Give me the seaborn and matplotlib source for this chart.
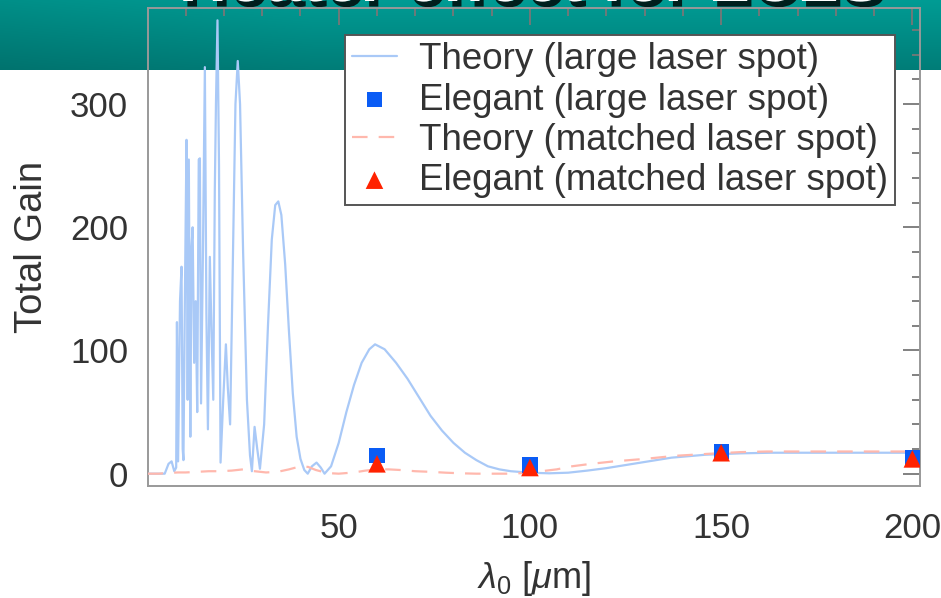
import numpy as np
import pandas as pd
import matplotlib
matplotlib.use("Agg")
import matplotlib.pyplot as plt
import matplotlib.patheffects as pe
from matplotlib.ticker import MultipleLocator, FixedLocator
import seaborn as sns

# ---------------- data ----------------
lam_large = [0, 3, 4.5, 5.5, 6.3, 7.0, 7.5, 7.7, 8.0, 8.5, 8.9, 9.2, 9.4, 9.8, 10.2,
             10.5, 10.8, 11.2, 11.5, 11.8, 12.2, 12.6, 13.0, 13.4, 13.7, 14.0, 14.5,
             15.0, 15.4, 15.8, 16.3, 16.7, 17.2, 17.6, 17.9, 18.3, 18.7, 19.1, 19.8,
             20.5, 21.0, 21.6, 22.2, 23.0, 23.6, 24.2, 25.0, 26.0, 26.8, 27.3, 28.0,
             28.7, 29.4, 30.5, 31.5, 32.5, 33.4, 34.2, 35.0, 36.0, 37, 38, 39, 40, 41,
             41.9, 43, 44.2, 45.3, 46.3, 48, 50, 52, 54, 56, 58, 59.5, 62, 65, 68,
             71, 74, 77, 80, 83, 86, 89, 92, 95, 100, 105, 110, 115, 120, 125,
             130, 137, 146, 155, 163, 180, 202]
gain_large = [0, 0, 0, 8, 10, 2, 5, 123, 10, 140, 168, 20, 11, 150, 271,
              60, 255, 30, 184, 200, 90, 140, 50, 255, 256, 57, 180,
              330, 130, 36, 176, 120, 60, 230, 300, 368, 250, 9, 60,
              105, 70, 40, 150, 300, 335, 300, 180, 60, 15, 2, 38,
              20, 4, 40, 120, 190, 218, 221, 210, 170, 115, 65, 30, 12, 3,
              0, 6, 9, 5, 0, 6, 25, 50, 72, 90, 101, 105, 101, 90, 77,
              62, 47, 35, 25, 17, 11, 6, 3.5, 2, 0.8, 0.3, 0.8, 2.5, 4.5, 7,
              9.5, 13, 15.4, 16.5, 17, 17, 17]

lam_matched = [0, 3, 5, 8, 10, 13, 16, 19, 22, 25, 28, 31, 34, 37, 40, 42, 44, 47,
               50, 54, 57, 60, 63, 66, 70, 74, 78, 82, 86, 90, 95, 100, 103, 107,
               111, 116, 122, 130, 138, 146, 155, 162, 180, 202]
gain_matched = [0, 0, 0.5, 1, 1, 1.5, 2, 2, 2.5, 3.5, 2, 1, 1.5, 3.5, 6, 5.5, 3, 0.5,
                0, 1, 2.5, 3.5, 3.5, 3, 2, 1.5, 0.8, 0.3, 0, 0, 0, 0.8, 2, 3.5,
                6, 8, 10, 12, 14.5, 16, 17.5, 18, 18, 18]

lam_sim = [60, 100, 150, 200]
gain_large_sim = [15, 7, 18, 13]
gain_matched_sim = [8, 5, 17, 12]

x_ticks = [50, 100, 150, 200]
y_ticks = [0, 100, 200, 300]

labels = ["Theory (large laser spot)", "Elegant (large laser spot)",
          "Theory (matched laser spot)", "Elegant (matched laser spot)"]

# ---------------- style ----------------
sns.set_theme(style="white")
plt.rcParams["font.family"] = ["Liberation Sans", "DejaVu Sans"]
plt.rcParams["mathtext.fontset"] = "custom"
plt.rcParams["mathtext.rm"] = "Liberation Sans"
plt.rcParams["mathtext.it"] = "Liberation Sans:italic"
txt = "#333333"

W, H = 941, 598
fig = plt.figure(figsize=(W / 100, H / 100), dpi=100)
fig.patch.set_facecolor("white")

# teal header band
band_h = 70 / H
bax = fig.add_axes([0, 1 - band_h, 1, band_h], zorder=0)
gy = np.linspace(0, 1, 50)[:, None]
gx = np.linspace(0, 1, 200)[None, :]
top = np.array([0.0, 0.61, 0.58])
bot = np.array([0.0, 0.49, 0.47])
img = (top[None, None, :] * (1 - gy[..., None]) + bot[None, None, :] * gy[..., None])
img = img * (0.92 + 0.08 * np.clip(gx[..., None] * 3, 0, 1))
bax.imshow(img, aspect="auto", extent=[0, 1, 0, 1], origin="upper")
bax.set_axis_off()

# partially visible slide title (cut by the top edge, as in the reference)
fig.text(0.19, 1 - 1 / H, "Heater effect for LCLS", color="white", fontsize=48,
         fontweight="bold", ha="left", va="baseline", zorder=1,
         path_effects=[pe.SimplePatchShadow(offset=(3, -4), shadow_rgbFace="black", alpha=0.8),
                       pe.Normal()])

# main axes
L, R = 147.5 / W, 920 / W
B, T = 1 - 486 / H, 1 - 8 / H
ax = fig.add_axes([L, B, R - L, T - B], zorder=2)
ax.set_facecolor("none")

df_large = pd.DataFrame({"lam": lam_large, "gain": gain_large})
df_match = pd.DataFrame({"lam": lam_matched, "gain": gain_matched})
df_sim = pd.DataFrame({"lam": lam_sim, "large": gain_large_sim, "matched": gain_matched_sim})

sns.lineplot(data=df_large, x="lam", y="gain", ax=ax, estimator=None, sort=False,
             color="#a9c9f7", lw=1.6, label=labels[0], zorder=3)
sns.scatterplot(data=df_sim, x="lam", y="large", ax=ax, marker="s", s=120,
                color="#0a5cf5", edgecolor="none", label=labels[1], zorder=5)
sns.lineplot(data=df_match, x="lam", y="gain", ax=ax, estimator=None, sort=False,
             color="#ffb8ad", lw=1.6, linestyle=(0, (7, 5)), label=labels[2], zorder=4)
sns.scatterplot(data=df_sim, x="lam", y="matched", ax=ax, marker="^", s=160,
                color="#ff2200", edgecolor="none", label=labels[3], zorder=6)

ax.set_xlim(0, 202)
ax.set_ylim(-10, 378)
ax.xaxis.set_major_locator(FixedLocator(x_ticks))
ax.yaxis.set_major_locator(FixedLocator(y_ticks))
ax.xaxis.set_minor_locator(MultipleLocator(10))
ax.yaxis.set_minor_locator(MultipleLocator(20))
ax.tick_params(which="both", direction="in", top=True, right=True, colors="#777777",
               labelcolor=txt, labelsize=25, width=1.3)
ax.tick_params(which="major", length=12)
ax.tick_params(which="minor", length=6)
ax.tick_params(axis="x", pad=19)
ax.tick_params(axis="y", pad=14)
for s in ax.spines.values():
    s.set_color("#999999")
    s.set_linewidth(1.4)

ax.set_xlabel(r"$\lambda_0$ [$\mu$m]", fontsize=26, color=txt, labelpad=10)
ax.set_ylabel("Total Gain", fontsize=27.5, color=txt, labelpad=14)

leg = ax.legend(loc="upper right", bbox_to_anchor=((895 - 147.5) / 772.5, (486 - 35) / 478),
                borderaxespad=0, fontsize=26.5, frameon=True, fancybox=False,
                framealpha=1, edgecolor="#555555", handlelength=1.2, handletextpad=0.6,
                labelspacing=0.14, borderpad=0.2)
leg.get_frame().set_linewidth(1.4)
for t in leg.get_texts():
    t.set_color(txt)

fig.savefig("out.png", dpi=100)
